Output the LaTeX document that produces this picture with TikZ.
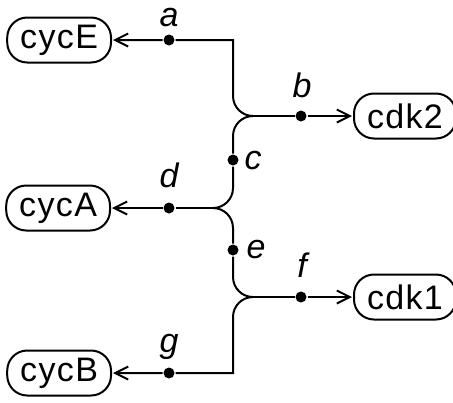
\documentclass[tikz,border=0pt]{standalone}
\usepackage{fontspec}
\setmainfont{Liberation Sans}[LetterSpace=4]
\usetikzlibrary{arrows.meta}

\begin{document}
\begin{tikzpicture}
        [x=0.5pt,y=-0.5pt,line width=1pt,
         gene/.style={draw, rounded corners=10pt, minimum height=22.5pt, inner xsep=6.5pt, font=\fontsize{17}{20}\selectfont},
         dot/.style={circle, fill, inner sep=0pt, minimum size=5.5pt},
         lab/.style={anchor=base, inner sep=0pt, font=\fontsize{17}{20}\selectfont\itshape},
         arr/.style={-{Straight Barb[length=6.5pt,width=6.5pt]}, shorten >=0.5pt}]
      \useasboundingbox (0,0) rectangle (453,402);

      \node[gene, anchor=east] (cycE) at (112,40) {cycE};
      \node[gene, anchor=west] (cdk2) at (353,116) {cdk2};
      \node[gene, anchor=east] (cycA) at (111,208) {cycA};
      \node[gene, anchor=west] (cdk1) at (353,297) {cdk1};
      \node[gene, anchor=east] (cycB) at (112,373) {cycB};

      \coordinate (ka) at (233,40);
      \coordinate (jb) at (253,116);
      \coordinate (jd) at (213,208);
      \coordinate (jf) at (253,297);
      \coordinate (kg) at (233,373);

      \foreach \n/\x/\y in {a/169/40, b/301/116, c/233/160, d/169/208, e/233/250, f/301/297, g/169/373}
        \node[dot] (d\n) at (\x,\y) {};

      \foreach \n/\x/\y in {a/169/26, b/302/97, c/253/169, d/169/187, e/256/258, f/302/277, g/169/352}
        \node[lab] (l\n) at (\x,\y) {\n};

      \draw[arr] (jb) [rounded corners=10pt] -- (jb -| ka) [sharp corners] -- (ka) -- (da) -- (cycE);
      \draw[arr] (jb) -- (db) -- (cdk2);
      \draw[rounded corners=10pt] (jb) -| (dc) |- (jd);
      \draw[arr] (jd) -- (dd) -- (cycA);
      \draw[rounded corners=10pt] (jd) -| (de) |- (jf);
      \draw[arr] (jf) -- (df) -- (cdk1);
      \draw[arr] (jf) [rounded corners=10pt] -- (jf -| kg) [sharp corners] -- (kg) -- (dg) -- (cycB);
    \end{tikzpicture}
\end{document}
